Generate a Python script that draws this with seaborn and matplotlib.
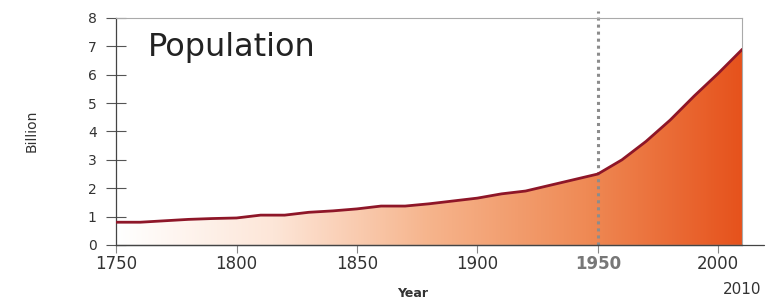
import numpy as np
import pandas as pd
import seaborn as sns
import matplotlib.pyplot as plt
from matplotlib.colors import LinearSegmentedColormap

# World population estimate, billions
years = [1750, 1760, 1770, 1780, 1790, 1800, 1810, 1820, 1830, 1840, 1850,
         1860, 1870, 1880, 1890, 1900, 1910, 1920, 1930, 1940, 1950,
         1960, 1970, 1980, 1990, 2000, 2010]
population = [0.80, 0.80, 0.85, 0.90, 0.93, 0.95, 1.05, 1.05, 1.15, 1.20, 1.27,
              1.37, 1.37, 1.45, 1.55, 1.65, 1.80, 1.90, 2.10, 2.30, 2.50,
              3.00, 3.65, 4.40, 5.25, 6.05, 6.90]
x_ticks = [1750, 1800, 1850, 1900, 1950, 2000]
y_ticks = list(range(0, 9))

df = pd.DataFrame({"Year": years, "Billion": population})

sns.set_style("white")
fig = plt.figure(figsize=(7.79, 3.05), dpi=100)
ax = fig.add_axes([0.149, 0.197, 0.804, 0.744])

# gradient fill under the curve
cmap = LinearSegmentedColormap.from_list(
    "pop", ["#ffffff", "#fde6d8", "#f6b48c", "#ef8a55", "#e6521c"])
grad = np.linspace(0, 1, 256).reshape(1, -1)
img = ax.imshow(grad, extent=[1750, 2010, 0, 8], aspect="auto",
                cmap=cmap, origin="lower", zorder=1)
poly = ax.fill_between(df["Year"], 0, df["Billion"], color="none", lw=0)
img.set_clip_path(poly.get_paths()[0], transform=ax.transData)

sns.lineplot(data=df, x="Year", y="Billion", color="#8e1628", lw=2, ax=ax, zorder=3)

ax.axvline(1950, ymin=0, ymax=1.03, color="#8c8c8c", ls=(0, (1, 1.3)), lw=2.2,
           clip_on=False, zorder=2)
# x axis line runs a little past the plot area
ax.axhline(0, xmin=0, xmax=1.035, color="#444444", lw=0.9, clip_on=False, zorder=5)

ax.set_xlim(1750, 2010)
ax.set_ylim(0, 8)
ax.set_xticks(x_ticks)
ax.set_yticks(y_ticks)
ax.tick_params(axis="y", left=True, direction="inout", length=14, width=0.8,
               color="#555555", labelsize=10, labelcolor="#333333", pad=7)
ax.tick_params(axis="x", bottom=True, direction="out", length=6, width=0.8,
               color="#888888", labelsize=12, labelcolor="#333333", pad=1)
for lab in ax.get_xticklabels():
    if lab.get_text() == "1950":
        lab.set_color("#777777")
        lab.set_fontweight("bold")

for side in ["left", "bottom"]:
    ax.spines[side].set_color("#444444")
    ax.spines[side].set_linewidth(0.9)
for side in ["top", "right"]:
    ax.spines[side].set_color("#aaaaaa")
    ax.spines[side].set_linewidth(0.8)

ax.set_xlabel("")
ax.set_ylabel("")
fig.text(0.53, 0.025, "Year", fontsize=9, fontweight="bold", color="#333333",
         ha="center")
fig.text(0.04, 0.57, "Billion", fontsize=10, color="#333333", rotation=90,
         ha="center", va="center")
ax.text(2010, -1.3, "2010", fontsize=11, color="#333333", ha="center", va="top")
ax.text(1763, 6.95, "Population", fontsize=23, color="#222222", va="center")

fig.savefig("out.png", dpi=100)
